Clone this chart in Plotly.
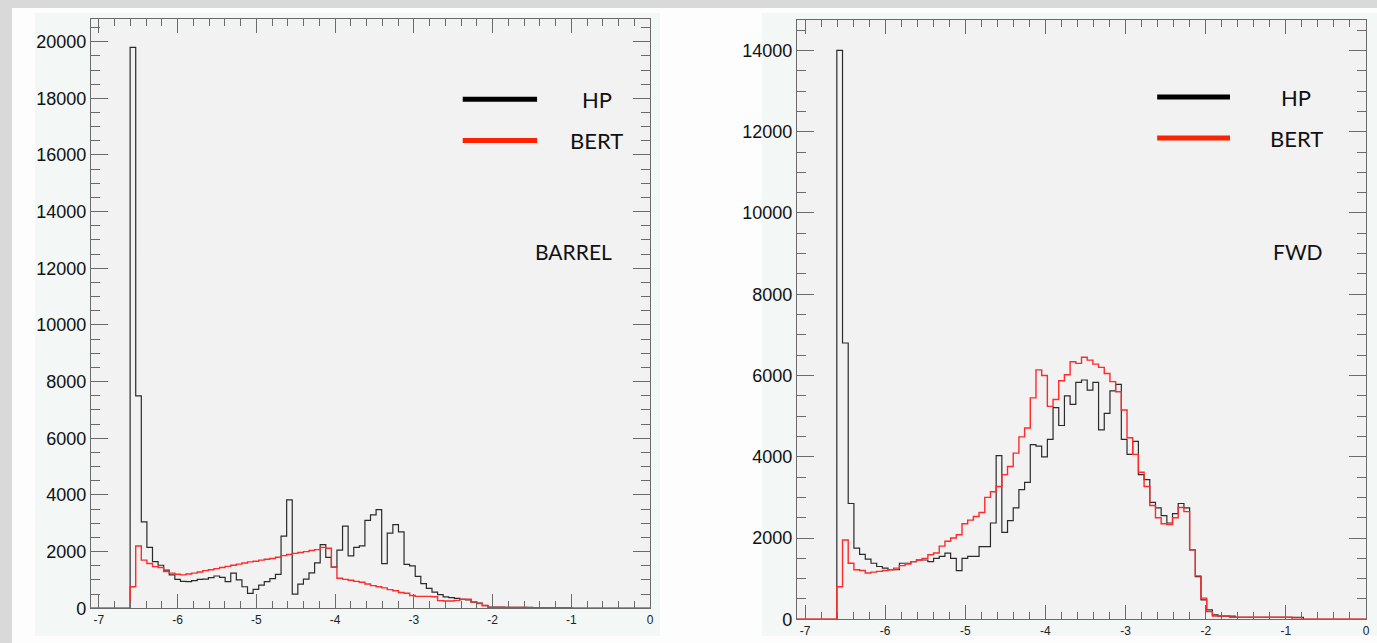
import plotly.graph_objects as go

# ---------------- data (counts per bin, 100 bins from -7.1 to 0) ----------------
bin_low = -7.1
bin_width = 0.071
n_bins = 100

hp_barrel = [
    0, 0, 0, 0, 0, 0, 0,
    19800, 7500, 3050, 2150, 1650, 1520, 1350, 1180, 1020, 950,
    940, 980, 1020, 1030, 1080, 1140, 1090, 940, 1240, 1000,
    760, 530, 670, 820, 940, 1050, 1200, 2550, 3830, 500,
    850, 1030, 1250, 1600, 2250, 1800, 1450, 2050, 2900, 1850,
    2150, 2200, 3100, 3300, 3480, 1580, 2650, 2950, 2700, 1550,
    1500, 1130, 870, 700, 570, 480, 400, 380, 350, 320,
    300, 220, 180, 100,
    45, 40, 40, 35, 35, 30, 30, 30, 25, 25, 25, 20, 20, 20, 15,
    0, 0, 0, 0, 0, 0, 0, 0, 0, 0, 0, 0, 0, 0,
]

bert_barrel = [
    0, 0, 0, 0, 0, 0, 0,
    760, 2200, 1700, 1580, 1470, 1440, 1300, 1240, 1200, 1180,
    1210, 1240, 1280, 1330, 1360, 1400, 1440, 1480, 1520, 1560,
    1600, 1640, 1660, 1700, 1730, 1760, 1800, 1860, 1900, 1940,
    1970, 2000, 2040, 2070, 2150, 2120, 1450, 1060, 1020, 990,
    950, 920, 860, 800, 760, 720, 660, 620, 560, 530,
    450, 420, 420, 420, 410, 270, 260, 260, 280, 320,
    320, 220, 170, 90,
    30, 30, 30, 30, 30, 30, 30, 25, 25, 25, 25, 20, 20, 20, 20,
    0, 0, 0, 0, 0, 0, 0, 0, 0, 0, 0, 0, 0, 0,
]

hp_fwd = [
    0, 0, 0, 0, 0, 0, 0,
    14000, 6800, 2850, 1750, 1600, 1480, 1380, 1300, 1260, 1220,
    1220, 1380, 1380, 1420, 1460, 1460, 1420, 1500, 1550, 1630,
    1500, 1200, 1500, 1550, 1550, 1790, 1790, 2370, 4030, 2140,
    2430, 2740, 3190, 3370, 4300, 4260, 4000, 4430, 5210, 4770,
    5500, 5290, 5830, 5890, 5640, 5830, 4660, 5070, 5620, 5780,
    4430, 4060, 4380, 3560, 3440, 2880, 2740, 2550, 2370, 2600,
    2850, 2740, 1710, 1050, 480, 230, 110, 80, 80, 80,
    50, 50, 50, 50, 50, 50, 50, 50, 50, 50, 50, 50,
    0, 0, 0, 0, 0, 0, 0, 0, 0, 0, 0,
]

bert_fwd = [
    0, 0, 0, 0, 0, 0, 0,
    800, 1950, 1380, 1220, 1200, 1140, 1160, 1180, 1200, 1220,
    1260, 1320, 1360, 1420, 1460, 1500, 1590, 1630, 1800, 1920,
    2000, 2080, 2350, 2440, 2530, 2630, 3000, 3140, 3270, 3560,
    3760, 4090, 4490, 4710, 5450, 6140, 6000, 5240, 5410, 5870,
    6020, 6340, 6300, 6450, 6380, 6280, 6200, 6050, 5850, 5600,
    5150, 4470, 4060, 3620, 3270, 2800, 2500, 2350, 2330, 2500,
    2750, 2650, 1710, 1070, 520, 190, 80, 80, 80,
    50, 50, 50, 50, 50, 50, 50, 50, 50, 50, 50,
    0, 0, 0, 0, 0, 0, 0, 0, 0, 0, 0, 0, 0,
]

series_names = ["HP", "BERT"]
panel_labels = ["BARREL", "FWD"]
x_ticks = [-7, -6, -5, -4, -3, -2, -1, 0]

edges = [bin_low + bin_width * i for i in range(n_bins + 1)]

W, H = 1377, 643
fig = go.Figure()

HP_COLOR = "#2b2b2b"
BERT_COLOR = "#ff2a2a"


def add_hist(vals, color, width, xa, ya, name):
    fig.add_trace(go.Scatter(
        x=edges, y=list(vals) + [vals[-1]], mode="lines",
        line=dict(color=color, width=width, shape="hv"),
        xaxis=xa, yaxis=ya, name=name, showlegend=False,
        hoverinfo="skip"))


add_hist(hp_barrel, HP_COLOR, 1.2, "x", "y", series_names[0])
add_hist(bert_barrel, BERT_COLOR, 1.4, "x", "y", series_names[1])
add_hist(hp_fwd, HP_COLOR, 1.2, "x2", "y2", series_names[0])
add_hist(bert_fwd, BERT_COLOR, 1.4, "x2", "y2", series_names[1])

AX = "#6a6a6a"


def xaxis_cfg(domain, anchor):
    return dict(
        domain=domain, anchor=anchor, range=[bin_low, 0],
        tickmode="array", tickvals=x_ticks, ticktext=[str(v) for v in x_ticks],
        ticks="inside", ticklen=14, tickwidth=1.2, tickcolor=AX,
        minor=dict(ticks="inside", ticklen=7, tickwidth=1.2, tickcolor=AX,
                   tickmode="linear", tick0=-7, dtick=0.2),
        showline=True, linecolor=AX, linewidth=1.3, mirror="allticks",
        showgrid=False, zeroline=False, automargin=False,
        tickfont=dict(family="Liberation Sans", size=12, color="#222"),
        fixedrange=True)


def yaxis_cfg(domain, anchor, ymax):
    return dict(
        domain=domain, anchor=anchor, range=[0, ymax],
        tickmode="linear", tick0=0, dtick=2000, tickformat="d",
        ticks="inside", ticklen=17, tickwidth=1.2, tickcolor=AX,
        minor=dict(ticks="inside", ticklen=9, tickwidth=1.2, tickcolor=AX,
                   tickmode="linear", tick0=0, dtick=500),
        showline=True, linecolor=AX, linewidth=1.3, mirror="allticks",
        showgrid=False, zeroline=False, ticklabelstandoff=0, automargin=False,
        tickfont=dict(family="Liberation Sans", size=18, color="#111"),
        fixedrange=True)


left_dom_x = [91 / W, 650 / W]
left_dom_y = [(H - 608.3) / H, (H - 19) / H]
right_dom_x = [797 / W, 1366 / W]
right_dom_y = [(H - 619.3) / H, (H - 20) / H]

shapes = [
    # white card
    dict(type="rect", xref="paper", yref="paper", x0=12 / W, x1=1, y0=0,
         y1=(H - 8) / H, fillcolor="#fdfdfd", line=dict(width=0), layer="below"),
    # light panels
    dict(type="rect", xref="paper", yref="paper", x0=35 / W, x1=660 / W,
         y0=(H - 636) / H, y1=(H - 13) / H, fillcolor="#f3f7f5",
         line=dict(width=0), layer="below"),
    dict(type="rect", xref="paper", yref="paper", x0=762 / W, x1=1,
         y0=(H - 636) / H, y1=(H - 13) / H, fillcolor="#f3f7f5",
         line=dict(width=0), layer="below"),
    # plot-area fills
    dict(type="rect", xref="x domain", yref="y domain", x0=0, x1=1, y0=0, y1=1,
         fillcolor="#f2f2f2", line=dict(width=0), layer="below"),
    dict(type="rect", xref="x2 domain", yref="y2 domain", x0=0, x1=1, y0=0, y1=1,
         fillcolor="#f2f2f2", line=dict(width=0), layer="below"),
]

annotations = []
legend_layout = [
    ("x domain", "y domain", 0.665, 0.798, 0.905, [0.864, 0.794], 0.864, 0.605),
    ("x2 domain", "y2 domain", 0.633, 0.761, 0.877, [0.8715, 0.803], 0.88, 0.613),
]
for (xr, yr, lx0, lx1, tx, rows, px, py), lab in zip(legend_layout, panel_labels):
    for name, color, ry in zip(series_names, ["#000000", "#ff2200"], rows):
        shapes.append(dict(type="line", xref=xr, yref=yr, x0=lx0, x1=lx1,
                           y0=ry, y1=ry, line=dict(color=color, width=5)))
        annotations.append(dict(xref=xr, yref=yr, x=tx, y=ry, text=name,
                                showarrow=False, xanchor="center", yanchor="middle",
                                font=dict(family="Lato", size=22, color="#111")))
    annotations.append(dict(xref=xr, yref=yr, x=px, y=py, text=lab,
                            showarrow=False, xanchor="center", yanchor="middle",
                            font=dict(family="Lato", size=21, color="#111")))

fig.update_layout(
    width=W, height=H, margin=dict(l=0, r=0, t=0, b=0, autoexpand=False),
    paper_bgcolor="#d9d9d9", plot_bgcolor="#f2f2f2",
    xaxis=xaxis_cfg(left_dom_x, "y"),
    yaxis=yaxis_cfg(left_dom_y, "x", 20800),
    xaxis2=xaxis_cfg(right_dom_x, "y2"),
    yaxis2=yaxis_cfg(right_dom_y, "x2", 14750),
    shapes=shapes, annotations=annotations, showlegend=False,
)

fig.write_html("out.html", config={"displayModeBar": False},
               post_script="document.body.style.margin='0';document.body.style.overflow='hidden';")
